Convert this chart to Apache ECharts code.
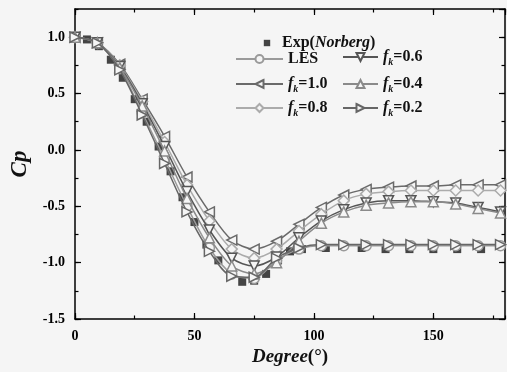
<!DOCTYPE html>
<html><head><meta charset="utf-8">
<script src="https://cdn.jsdelivr.net/npm/echarts@6/dist/echarts.min.js"></script>
<style>html,body{margin:0;padding:0;background:#f5f5f5}#c{width:507px;height:372px}</style>
</head><body><div id="c"></div>
<script>
// ---- data ----
const expDeg = [0,5,10,15,20,25,30,35,40,45,50,55,60,65,70,75,80,85,90,95,105,120,130,140,150,160,170];
const expCp  = [1.0,0.98,0.92,0.80,0.64,0.45,0.25,0.03,-0.19,-0.42,-0.64,-0.84,-0.98,-1.11,-1.17,-1.16,-1.10,-0.98,-0.90,-0.88,-0.87,-0.87,-0.88,-0.88,-0.88,-0.88,-0.88];
const simDeg = [0,9.375,18.75,28.125,37.5,46.875,56.25,65.625,75,84.375,93.75,103.125,112.5,121.875,131.25,140.625,150,159.375,168.75,178.125];
const lesCp  = [1.0,0.95,0.72,0.33,-0.08,-0.50,-0.87,-1.10,-1.14,-0.98,-0.88,-0.85,-0.85,-0.85,-0.85,-0.85,-0.85,-0.85,-0.85,-0.85];
const fk10Cp = [1.0,0.95,0.76,0.45,0.12,-0.24,-0.55,-0.80,-0.88,-0.81,-0.66,-0.51,-0.40,-0.35,-0.33,-0.32,-0.32,-0.31,-0.31,-0.31];
const fk08Cp = [1.0,0.95,0.75,0.43,0.07,-0.31,-0.63,-0.88,-0.96,-0.88,-0.72,-0.57,-0.45,-0.39,-0.37,-0.36,-0.36,-0.36,-0.36,-0.36];
const fk06Cp = [1.0,0.95,0.74,0.41,0.03,-0.37,-0.71,-0.96,-1.03,-0.95,-0.78,-0.63,-0.53,-0.47,-0.45,-0.45,-0.46,-0.47,-0.51,-0.55];
const fk04Cp = [1.0,0.95,0.73,0.39,-0.01,-0.43,-0.78,-1.03,-1.10,-1.00,-0.81,-0.65,-0.55,-0.49,-0.47,-0.46,-0.46,-0.48,-0.52,-0.56];
const fk02Cp = [1.0,0.95,0.71,0.31,-0.12,-0.55,-0.90,-1.12,-1.13,-0.96,-0.87,-0.84,-0.84,-0.84,-0.84,-0.84,-0.84,-0.84,-0.84,-0.84];
const xTicks = [0,50,100,150];
const yTicks = [-1.5,-1.0,-0.5,0.0,0.5,1.0];

const seriesNames = ['Exp(Norberg)','LES','fk=1.0','fk=0.8','fk=0.6','fk=0.4','fk=0.2'];
const simSets = [lesCp, fk10Cp, fk08Cp, fk06Cp, fk04Cp, fk02Cp];

const FONT = 'Liberation Serif';
const BG = '#f5f5f5';
const symbols = {
  'LES':'circle',
  'fk=1.0':'path://M10,0L0,5L10,10Z',
  'fk=0.8':'diamond',
  'fk=0.6':'path://M0,0L10,0L5,10Z',
  'fk=0.4':'path://M5,0L10,10L0,10Z',
  'fk=0.2':'path://M0,0L10,5L0,10Z'
};
const colors = {'LES':'#9a9a9a','fk=1.0':'#6a6a6a','fk=0.8':'#ababab','fk=0.6':'#555555','fk=0.4':'#8a8a8a','fk=0.2':'#666666'};

const pair = (xs, ys) => xs.map((x,i)=>[x, ys[i]]);

const series = [{
  name: 'Exp(Norberg)', type: 'line', data: pair(expDeg, expCp),
  symbol: 'rect', symbolSize: 8, showSymbol: true,
  lineStyle: {width: 0, opacity: 0},
  itemStyle: {color: '#444444'}, z: 2
}];
seriesNames.slice(1).forEach((n, k) => {
  series.push({
    name: n, type: 'line', data: pair(simDeg, simSets[k]),
    smooth: 0.3, symbol: symbols[n], symbolSize: n==='fk=0.8'?11:10,
    lineStyle: {color: colors[n], width: 1.5},
    itemStyle: {color: BG, borderColor: colors[n], borderWidth: 1.5},
    z: 3 + k
  });
});

const legendText = {color:'#111', fontFamily: FONT, fontWeight:'bold', fontSize: 16,
  rich: {
    b:{fontFamily:FONT,fontWeight:'bold',fontSize:16,color:'#111'},
    i:{fontFamily:FONT,fontWeight:'bold',fontStyle:'italic',fontSize:16,color:'#111'},
    sub:{fontFamily:FONT,fontWeight:'bold',fontStyle:'italic',fontSize:10,color:'#111',padding:[10,0,0,0]}
  }};
const fmt = name => {
  if (name === 'Exp(Norberg)') return '{b|Exp(}{i|Norberg}{b|)}';
  if (name === 'LES') return '{b|LES}';
  return '{i|f}{sub|k}{b|' + name.slice(2) + '}';
};
function leg(name, left, top, w) {
  return {data:[name], left:left, top:top, padding:0, itemWidth:w, itemHeight: name==='Exp(Norberg)'?8:10,
    itemGap:0, formatter:fmt, textStyle:legendText, selectedMode:false};
}

const tickStyle = {color:'#000', width:1.2};
function xAx(pos, interval, len, showLine, showLabel, extra) {
  return Object.assign({type:'value', position:pos, min:0, max:180, interval:interval,
    axisLine:{show:showLine, onZero:false, lineStyle:{color:'#000', width:1.5}},
    axisTick:{show:true, inside:true, length:len, lineStyle:tickStyle},
    axisLabel:{show:showLabel, showMaxLabel:false, color:'#000', fontFamily:FONT, fontWeight:'bold', fontSize:14, margin:10},
    splitLine:{show:false}}, extra||{});
}
function yAx(pos, interval, len, showLine, showLabel, extra) {
  return Object.assign({type:'value', position:pos, min:-1.5, max:1.25, interval:interval,
    axisLine:{show:showLine, onZero:false, lineStyle:{color:'#000', width:1.5}},
    axisTick:{show:true, inside:true, length:len, lineStyle:tickStyle},
    axisLabel:{show:showLabel, showMaxLabel:false, color:'#000', fontFamily:FONT, fontWeight:'bold', fontSize:14, margin:10,
      formatter: v => yTicks.some(t=>Math.abs(t-v)<1e-9) ? v.toFixed(1) : ''},
    splitLine:{show:false}}, extra||{});
}

const chart = echarts.init(document.getElementById('c'), null, {renderer:'canvas'});
chart.setOption({
  backgroundColor: BG,
  animation: false,
  grid: {left:75, right:2, top:9, bottom:53, containLabel:false},
  xAxis: [
    xAx('bottom', 50, 6, true, true, {name:'{i|Degree}{n|(°)}', nameLocation:'middle', nameGap:29,
      nameTextStyle:{rich:{i:{fontFamily:FONT,fontWeight:'bold',fontStyle:'italic',fontSize:19,color:'#111'},
                          n:{fontFamily:FONT,fontWeight:'bold',fontSize:19,color:'#111'}}}}),
    xAx('bottom', 25, 3.5, false, false),
    xAx('top', 50, 6, true, false),
    xAx('top', 25, 3.5, false, false)
  ],
  yAxis: [
    yAx('left', 0.5, 6, true, true, {name:'Cp', nameLocation:'middle', nameGap:39, nameRotate:90,
      nameTextStyle:{fontFamily:FONT,fontWeight:'bold',fontStyle:'italic',fontSize:23,color:'#111'}}),
    yAx('left', 0.25, 3.5, false, false),
    yAx('right', 0.5, 6, true, false),
    yAx('right', 0.25, 3.5, false, false)
  ],
  legend: [
    leg('Exp(Norberg)', 257, 35, 20),
    leg('LES', 235, 51, 47),
    leg('fk=1.0', 235, 76, 47),
    leg('fk=0.8', 235, 100, 47),
    leg('fk=0.6', 342, 49, 35),
    leg('fk=0.4', 342, 76, 35),
    leg('fk=0.2', 342, 100, 35)
  ],
  series: series
});
</script></body></html>
